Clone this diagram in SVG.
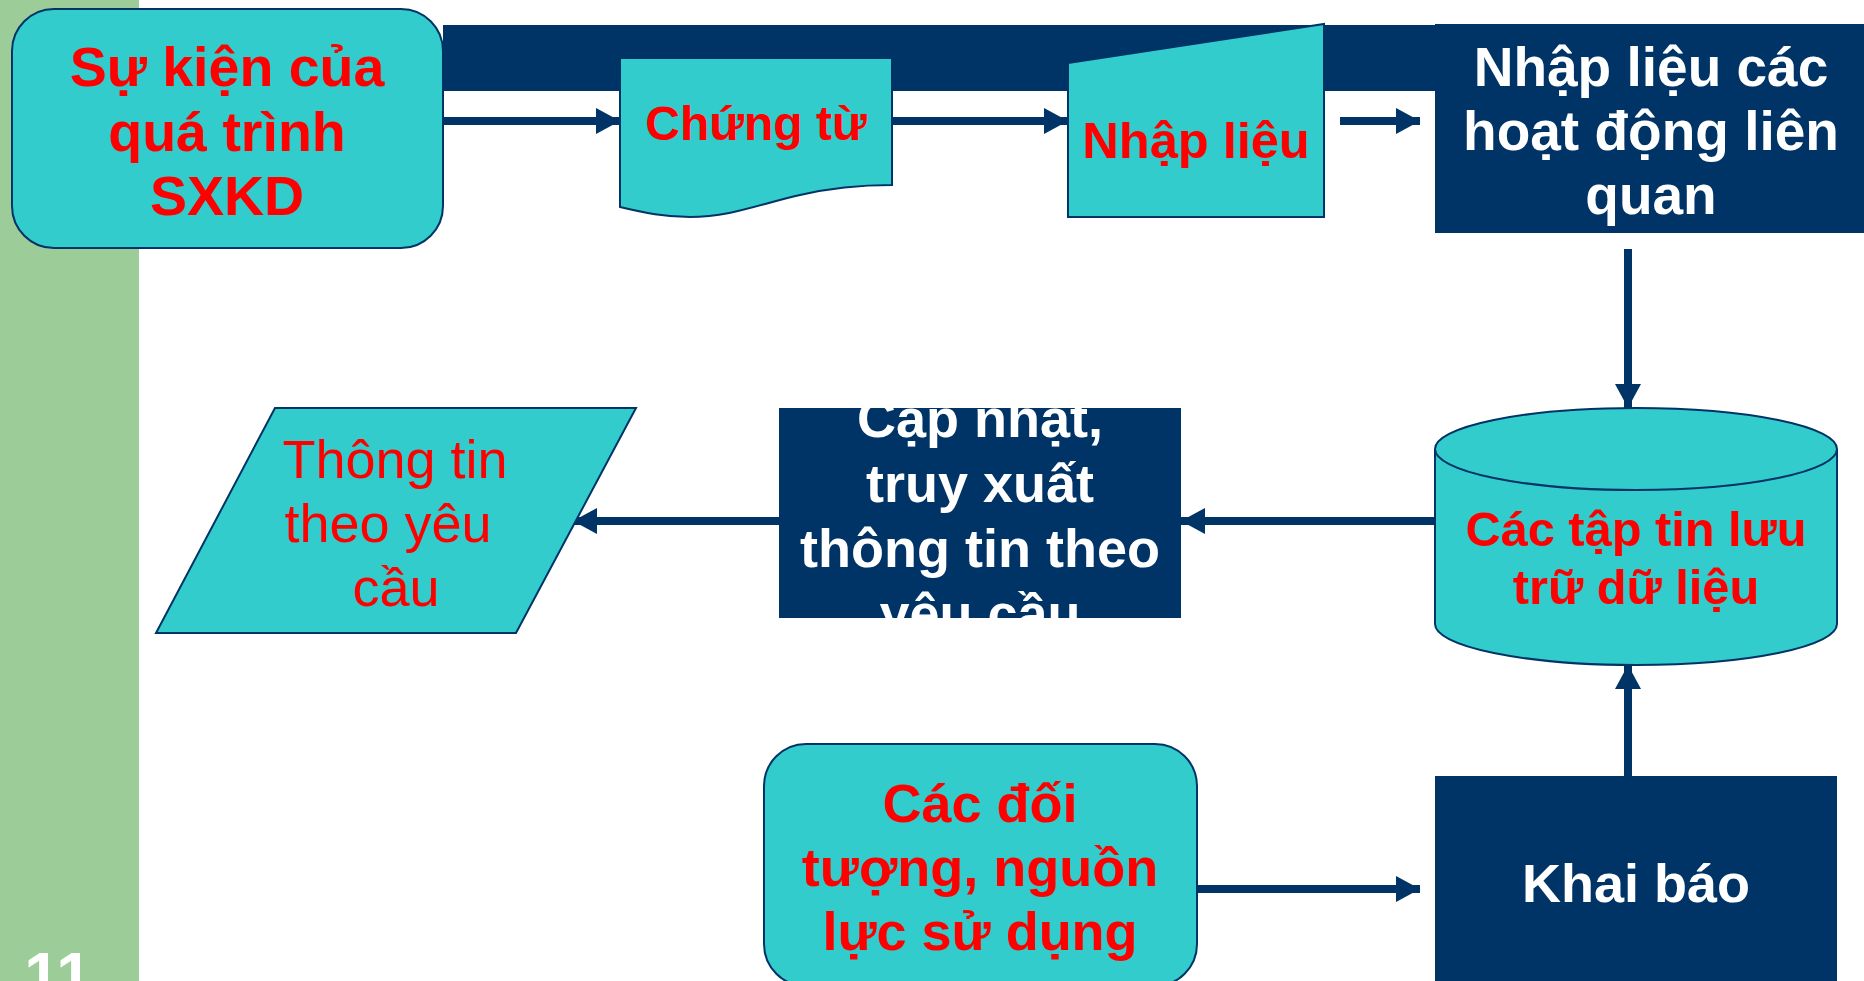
<svg xmlns="http://www.w3.org/2000/svg" width="1864" height="981" viewBox="0 0 1864 981">
  <style>
    .proc { fill: #33CCCC; stroke: #003366; stroke-width: 2; }
    .dark { fill: #003366; }
    .t { font-family: "Liberation Sans", Arial, sans-serif; text-anchor: middle; }
    .b { font-weight: bold; }
    .red { fill: #FF0000; }
    .white { fill: #FFFFFF; }
    .big { font-size: 54px; }
    .mid { font-size: 48px; }
    .link { stroke: #003366; stroke-width: 8; fill: none; marker-end: url(#head); }
  </style>
  <defs>
    <marker id="head" markerUnits="userSpaceOnUse" viewBox="0 0 24 26" refX="24" refY="13" markerWidth="24" markerHeight="26" orient="auto">
      <path d="M0,0 L24,13 L0,26 Z" fill="#003366"/>
    </marker>
    <clipPath id="clipUpdate">
      <rect x="779" y="408" width="402" height="210"/>
    </clipPath>
  </defs>

  <!-- background -->
  <rect x="0" y="0" width="1864" height="981" fill="#FFFFFF"/>
  <rect x="0" y="0" width="139" height="981" fill="#9CCC98"/>
  <text class="t b white" x="58" y="998" font-size="64">11</text>

  <!-- header band -->
  <rect class="dark" x="443" y="25" width="1421" height="66"/>

  <!-- connectors -->
  <g id="connectors">
    <line class="link" x1="443" y1="121" x2="620" y2="121"/>
    <line class="link" x1="892" y1="121" x2="1068" y2="121"/>
    <line class="link" x1="1340" y1="121" x2="1420" y2="121"/>
    <line class="link" x1="1628" y1="249" x2="1628" y2="408"/>
    <line class="link" x1="1435" y1="521" x2="1181" y2="521"/>
    <line class="link" x1="779" y1="521" x2="573" y2="521"/>
    <line class="link" x1="1628" y1="776" x2="1628" y2="665"/>
    <line class="link" x1="1197" y1="889" x2="1420" y2="889"/>
  </g>

  <!-- event -->
  <g id="node-event">
    <rect class="proc" x="12" y="9" width="431" height="239" rx="42" ry="42"/>
    <text class="t b red" font-size="55.5" x="227" y="86">Sự kiện của</text>
    <text class="t b red" font-size="55.5" x="227" y="151">quá trình</text>
    <text class="t b red" font-size="55.5" x="227" y="215">SXKD</text>
  </g>

  <!-- document -->
  <g id="node-document">
    <path class="proc" d="M620,58 H892 V185 C860,185 830,188 800,195 C760,204 730,217 690,217 C665,217 645,213 620,207 Z"/>
    <text class="t b red mid" x="756" y="140">Chứng từ</text>
  </g>

  <!-- manual input -->
  <g id="node-input">
    <polygon class="proc" points="1068,63 1324,24 1324,217 1068,217"/>
    <text class="t b red" font-size="50.5" x="1196" y="158">Nhập liệu</text>
  </g>

  <!-- related activities entry -->
  <g id="node-entry">
    <rect class="dark" x="1435" y="24" width="429" height="209"/>
    <text class="t b white" font-size="55" x="1651" y="86">Nhập liệu các</text>
    <text class="t b white" font-size="55" x="1651" y="150">hoạt động liên</text>
    <text class="t b white" font-size="55" x="1651" y="214">quan</text>
  </g>

  <!-- data store -->
  <g id="node-store">
    <path class="proc" d="M1435,449 V624 A201,41 0 0 0 1837,624 V449"/>
    <ellipse class="proc" cx="1636" cy="449" rx="201" ry="41"/>
    <text class="t b red" font-size="48.7" x="1636" y="546">Các tập tin lưu</text>
    <text class="t b red" font-size="48.7" x="1636" y="604">trữ dữ liệu</text>
  </g>

  <!-- update / retrieve -->
  <g id="node-update">
    <rect class="dark" x="779" y="408" width="402" height="210"/>
    <g clip-path="url(#clipUpdate)">
      <text class="t b white big" x="980" y="437">Cập nhật,</text>
      <text class="t b white big" x="980" y="502">truy xuất</text>
      <text class="t b white big" x="980" y="567">thông tin theo</text>
      <text class="t b white big" x="980" y="632">yêu cầu</text>
    </g>
  </g>

  <!-- output -->
  <g id="node-output">
    <polygon class="proc" points="275,408 636,408 516,633 156,633"/>
    <text class="t red big" x="395" y="478">Thông tin</text>
    <text class="t red big" x="388" y="542">theo yêu</text>
    <text class="t red big" x="396" y="606">cầu</text>
  </g>

  <!-- resources -->
  <g id="node-resources">
    <rect class="proc" x="764" y="744" width="433" height="242" rx="42" ry="42"/>
    <text class="t b red big" x="980" y="822">Các đối</text>
    <text class="t b red big" x="980" y="886">tượng, nguồn</text>
    <text class="t b red big" x="980" y="950">lực sử dụng</text>
  </g>

  <!-- declaration -->
  <g id="node-declare">
    <rect class="dark" x="1435" y="776" width="402" height="210"/>
    <text class="t b white big" x="1636" y="902">Khai báo</text>
  </g>
</svg>
